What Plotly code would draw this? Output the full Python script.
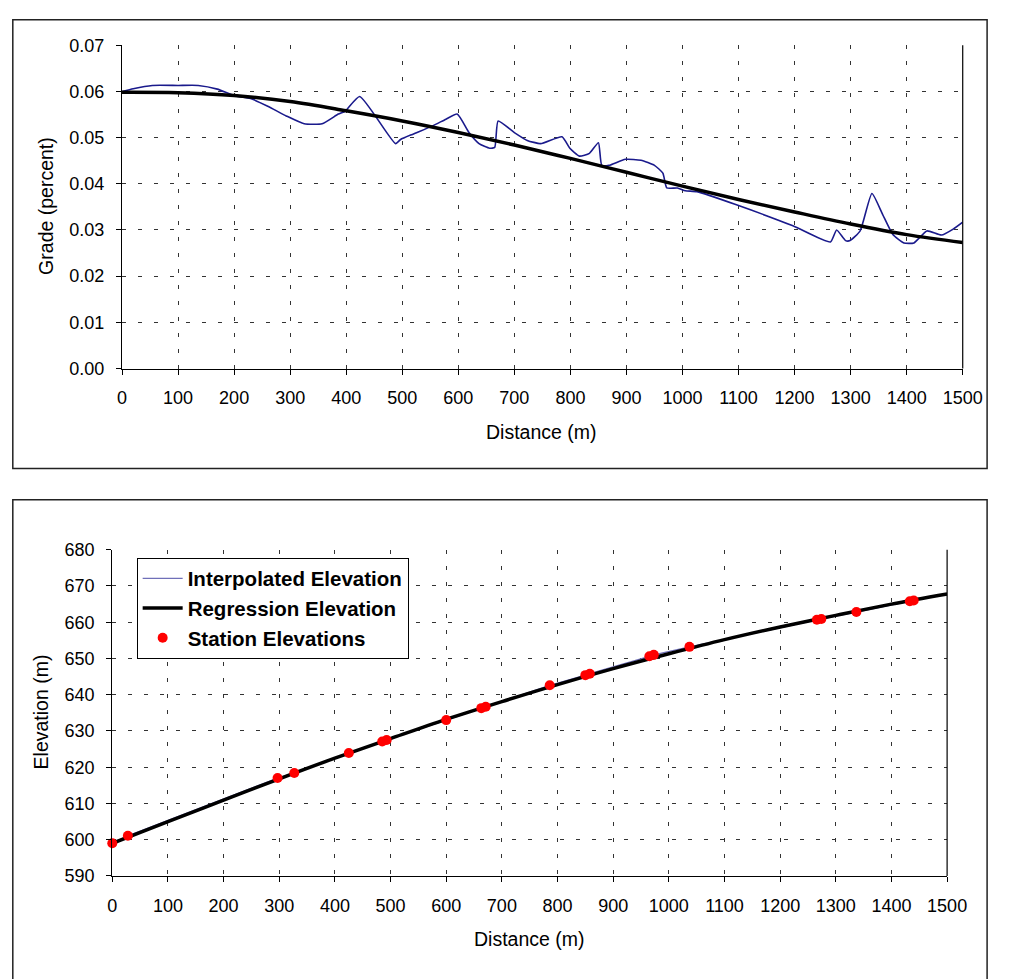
import plotly.graph_objects as go

W, H = 1011, 979

# ---------------- Data ----------------
# Top chart: grade vs distance
grade_dist = [0, 20, 54, 100, 136, 170, 200, 229, 260, 293, 325, 357, 386, 398, 424,
              488, 497, 520, 555, 578, 598, 619, 637, 656, 665, 671, 700, 723, 747,
              785, 799, 816, 834, 850, 856, 869, 898, 926, 950, 965, 972, 991, 1005,
              1026, 1095, 1197, 1264, 1275, 1291, 1299, 1317, 1338, 1357, 1375, 1395,
              1413, 1436, 1462, 1483, 1500]
grade_interp = [0.0600, 0.0606, 0.0613, 0.0613, 0.0613, 0.0605, 0.0591, 0.0585, 0.0568,
                0.0547, 0.0530, 0.0530, 0.0551, 0.0557, 0.0589,
                0.0487, 0.0496, 0.0508, 0.0526, 0.0540, 0.0551, 0.0511, 0.0487, 0.0477,
                0.0479, 0.0536, 0.0511, 0.0494, 0.0487,
                0.0502, 0.0477, 0.0460, 0.0466, 0.0489, 0.0440, 0.0440, 0.0453, 0.0451,
                0.0440, 0.0423, 0.0391, 0.0391, 0.0385,
                0.0383, 0.0355, 0.0309, 0.0274, 0.0300, 0.0277, 0.0277, 0.0298, 0.0379,
                0.0334, 0.0291, 0.0272, 0.0272, 0.0298, 0.0289, 0.0302, 0.0317]

reg_dist = [0, 100, 200, 300, 400, 500, 600, 700, 800, 900, 1000, 1100, 1200, 1300, 1400, 1500]
grade_reg = [0.0598, 0.0597, 0.0591, 0.0578, 0.0558, 0.0536, 0.0511, 0.0484, 0.0455,
             0.0425, 0.0395, 0.0366, 0.0339, 0.0313, 0.0290, 0.0273]

# Bottom chart: elevation vs distance
elev_reg = [599.0, 605.0, 610.9, 616.8, 622.5, 627.9, 633.2, 638.1, 642.8, 647.2,
            651.3, 655.2, 658.7, 661.9, 665.0, 667.8]
station_dist = [0, 28, 297, 327, 425, 485, 493, 600, 663, 671, 786, 850, 858, 965, 973,
                1037, 1266, 1274, 1337, 1433, 1440]
station_elev = [599.0, 601.1, 617.0, 618.4, 623.9, 627.1, 627.5, 633.0, 636.3, 636.7,
                642.6, 645.4, 645.8, 650.6, 651.0, 653.2, 660.7, 660.9, 662.8, 665.8, 666.0]

x_ticks = list(range(0, 1501, 100))
grade_ticks = [0.00, 0.01, 0.02, 0.03, 0.04, 0.05, 0.06, 0.07]
elev_ticks = list(range(590, 681, 10))

FONT = "Liberation Sans, Arial, sans-serif"
NAVY = "#1a1a8c"

fig = go.Figure()

# Top chart traces
fig.add_trace(go.Scatter(x=grade_dist, y=grade_interp, mode="lines",
                         line=dict(color=NAVY, width=1.6, shape="spline", smoothing=0.5),
                         showlegend=False, xaxis="x", yaxis="y"))
fig.add_trace(go.Scatter(x=reg_dist, y=grade_reg, mode="lines",
                         line=dict(color="black", width=3.5, shape="spline"),
                         showlegend=False, xaxis="x", yaxis="y"))

# Bottom chart traces
fig.add_trace(go.Scatter(x=station_dist, y=station_elev, mode="lines",
                         line=dict(color="#6f6fb8", width=1.2),
                         name="Interpolated Elevation", xaxis="x2", yaxis="y2"))
fig.add_trace(go.Scatter(x=reg_dist, y=elev_reg, mode="lines",
                         line=dict(color="black", width=3.5, shape="spline"),
                         name="Regression Elevation", xaxis="x2", yaxis="y2"))
fig.add_trace(go.Scatter(x=station_dist, y=station_elev, mode="markers",
                         marker=dict(color="#ff0000", size=10, line=dict(width=0)),
                         name="Station Elevations", cliponaxis=False,
                         xaxis="x2", yaxis="y2"))

def px_x(p):
    return p / W

def px_y(p):
    return 1 - p / H

grid_common = dict(showgrid=True, gridcolor="#333333", gridwidth=1, griddash="4px,12px",
                   showline=True, linecolor="black", linewidth=1.2,
                   ticks="outside", ticklen=5, tickcolor="black", tickwidth=1,
                   tickfont=dict(family=FONT, size=18, color="black"),
                   zeroline=False, fixedrange=True)

fig.update_layout(
    width=W, height=H,
    margin=dict(l=0, r=0, t=0, b=0),
    paper_bgcolor="white", plot_bgcolor="white",
    font=dict(family=FONT, color="black"),
    xaxis=dict(domain=[px_x(120), px_x(982)], range=[0, 1500], tickvals=x_ticks,
               anchor="y", ticklabelstandoff=8, **grid_common),
    yaxis=dict(domain=[px_y(366), px_y(36)], range=[0, 0.07], tickvals=grade_ticks,
               tickformat=".2f", anchor="x", ticklabelstandoff=8, **grid_common),
    xaxis2=dict(domain=[px_x(110), px_x(966)], range=[0, 1500], tickvals=x_ticks,
                anchor="y2", ticklabelstandoff=8, **grid_common),
    yaxis2=dict(domain=[px_y(884), px_y(551)], range=[590, 680], tickvals=elev_ticks,
                anchor="x2", ticklabelstandoff=8, **grid_common),
    legend=dict(x=px_x(135), y=px_y(559), xanchor="left", yanchor="top",
                bgcolor="white", bordercolor="black", borderwidth=1,
                font=dict(family=FONT, size=20.5, color="black", weight="bold"),
                tracegroupgap=0, itemwidth=40),
    showlegend=True,
)

shapes = [
    # outer chart frames
    dict(type="rect", xref="paper", yref="paper", x0=px_x(8), x1=px_x(1007),
         y0=px_y(468), y1=px_y(10), line=dict(color="#222222", width=1.5)),
    dict(type="rect", xref="paper", yref="paper", x0=px_x(8), x1=px_x(1007),
         y0=-0.05, y1=px_y(500), line=dict(color="#222222", width=1.5)),
    # right plot-area borders
    dict(type="line", xref="x domain", yref="y domain", x0=1, x1=1, y0=0, y1=1,
         line=dict(color="black", width=1.2)),
    dict(type="line", xref="x2 domain", yref="y2 domain", x0=1, x1=1, y0=0, y1=1,
         line=dict(color="black", width=1.2)),
]
fig.update_layout(shapes=shapes)

ann_font = dict(family=FONT, size=19.5, color="black")
fig.update_layout(annotations=[
    dict(text="Grade (percent)", xref="paper", yref="paper", x=px_x(42), y=px_y(200),
         textangle=-90, showarrow=False, font=ann_font, xanchor="center", yanchor="middle"),
    dict(text="Distance (m)", xref="paper", yref="paper", x=px_x(550), y=px_y(431),
         showarrow=False, font=ann_font, xanchor="center", yanchor="middle"),
    dict(text="Elevation (m)", xref="paper", yref="paper", x=px_x(37), y=px_y(717),
         textangle=-90, showarrow=False, font=ann_font, xanchor="center", yanchor="middle"),
    dict(text="Distance (m)", xref="paper", yref="paper", x=px_x(538), y=px_y(948),
         showarrow=False, font=ann_font, xanchor="center", yanchor="middle"),
])

post = ("document.body.style.margin='0';"
        "document.body.style.overflow='hidden';")

fig.write_html("out.html", config={"displayModeBar": False}, post_script=post)
